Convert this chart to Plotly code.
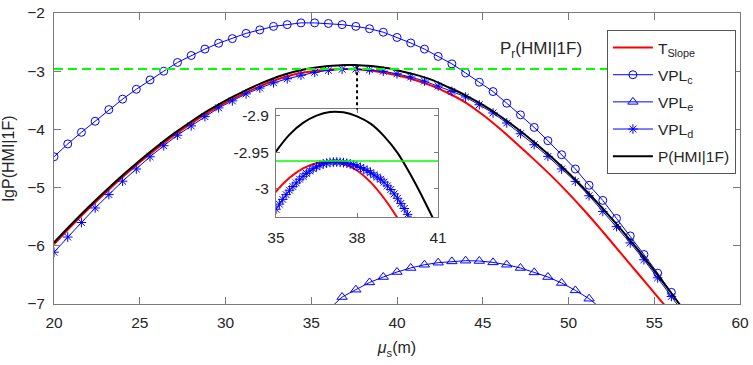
import plotly.graph_objects as go

# ---------------- data ----------------
# x grid of the marker series (step 0.8)
mu_marks = [20.0, 20.8, 21.6, 22.4, 23.2, 24.0, 24.8, 25.6, 26.4, 27.2, 28.0, 28.8,
            29.6, 30.4, 31.2, 32.0, 32.8, 33.6, 34.4, 35.2, 36.0, 36.8, 37.6, 38.4,
            39.2, 40.0, 40.8, 41.6, 42.4, 43.2, 44.0, 44.8, 45.6, 46.4, 47.2, 48.0,
            48.8, 49.6, 50.4, 51.2, 52.0, 52.8, 53.6, 54.4, 55.2, 56.0, 56.8]

vpl_c = [-4.47, -4.25, -4.05, -3.86, -3.66, -3.48, -3.31, -3.15, -3.00, -2.85, -2.73, -2.62,
         -2.52, -2.44, -2.35, -2.29, -2.23, -2.20, -2.17, -2.17, -2.18, -2.20, -2.23, -2.27,
         -2.33, -2.42, -2.515, -2.62, -2.746, -2.874, -3.031, -3.19, -3.35, -3.55, -3.75, -3.966,
         -4.194, -4.435, -4.68, -4.96, -5.22, -5.53, -5.83, -6.15, -6.47, -6.80, -7.15]

vpl_d = [-6.11, -5.85, -5.60, -5.35, -5.12, -4.89, -4.68, -4.47, -4.28, -4.10, -3.94, -3.78,
         -3.63, -3.51, -3.39, -3.29, -3.20, -3.13, -3.07, -3.02, -2.985, -2.967, -2.964, -2.977,
         -3.00, -3.045, -3.10, -3.17, -3.255, -3.347, -3.443, -3.576, -3.718, -3.89, -4.074, -4.263,
         -4.464, -4.68, -4.893, -5.14, -5.41, -5.67, -5.95, -6.24, -6.55, -6.87, -7.2]

mu_e = [36.0, 36.8, 37.6, 38.4, 39.2, 40.0, 40.8, 41.6, 42.4, 43.2, 44.0, 44.8, 45.6,
        46.4, 47.2, 48.0, 48.8, 49.6, 50.4, 51.2, 52.0]
vpl_e = [-7.1, -6.88, -6.754, -6.629, -6.536, -6.45, -6.381, -6.325, -6.29, -6.268, -6.256,
         -6.261, -6.285, -6.325, -6.381, -6.457, -6.536, -6.639, -6.766, -6.909, -7.1]

mu_black = [20, 21, 22, 23, 24, 25, 26, 27, 28, 29, 30, 31, 32, 33, 34, 34.5, 35, 35.5, 36,
            36.5, 37, 37.5, 38, 38.5, 39, 39.5, 40, 40.5, 41, 41.5, 42, 43, 44, 45, 46, 47,
            48, 49, 50, 51, 52, 53, 54, 55, 56, 57]
p_hmi = [-5.944, -5.634, -5.339, -5.059, -4.789, -4.534, -4.294, -4.069, -3.864, -3.674,
         -3.504, -3.354, -3.219, -3.099, -3.009, -2.976, -2.949, -2.926, -2.910, -2.900,
         -2.895, -2.8955, -2.901, -2.911, -2.928, -2.951, -2.982, -3.017, -3.055, -3.097,
         -3.145, -3.275, -3.415, -3.58, -3.77, -3.985, -4.22, -4.475, -4.75, -5.045, -5.36,
         -5.695, -6.05, -6.425, -6.815, -7.215]

mu_red = [20, 21, 22, 23, 24, 25, 26, 27, 28, 29, 30, 31, 32, 33, 34, 35, 35.5, 36, 36.5,
          37, 37.5, 38, 38.5, 39, 39.5, 40, 41, 42, 43, 44, 45, 46, 47, 48, 49, 50, 51, 52,
          53, 54, 55, 56]
t_slope = [-5.975, -5.665, -5.37, -5.09, -4.82, -4.566, -4.327, -4.103, -3.899, -3.71, -3.541,
           -3.393, -3.26, -3.143, -3.057, -3.004, -2.985, -2.972, -2.965, -2.9635, -2.966,
           -2.975, -2.991, -3.013, -3.040, -3.071, -3.148, -3.249, -3.379, -3.539, -3.749,
           -3.989, -4.249, -4.519, -4.799, -5.099, -5.419, -5.759, -6.109, -6.459, -6.809, -7.159]

p_r = -2.962  # threshold P_r(HMI|1F)

# dense VPL_d samples shown in the inset
mu_inset = [35.0, 35.125, 35.25, 35.375, 35.5, 35.625, 35.75, 35.875, 36.0, 36.125, 36.25,
            36.375, 36.5, 36.625, 36.75, 36.875, 37.0, 37.125, 37.25, 37.375, 37.5, 37.625,
            37.75, 37.875, 38.0, 38.125, 38.25, 38.375, 38.5, 38.625, 38.75, 38.875, 39.0,
            39.125, 39.25, 39.375, 39.5, 39.625, 39.75, 39.875, 40.0]
vpl_d_inset = [-3.028, -3.021, -3.0145, -3.008, -3.002, -2.997, -2.992, -2.987, -2.983, -2.979,
               -2.9756, -2.9726, -2.970, -2.968, -2.966, -2.965, -2.964, -2.9636, -2.9635,
               -2.9638, -2.9643, -2.965, -2.966, -2.967, -2.969, -2.971, -2.973, -2.975, -2.978,
               -2.981, -2.984, -2.987, -2.991, -2.996, -3.001, -3.007, -3.013, -3.020, -3.027,
               -3.035, -3.043]

x_ticks = [20, 25, 30, 35, 40, 45, 50, 55, 60]
y_ticks = [-7, -6, -5, -4, -3, -2]
inset_x_ticks = [35, 38, 41]
inset_y_ticks = [-3, -2.95, -2.9]
inset_y_labels = ["-3", "-2.95", "-2.9"]

# ---------------- figure ----------------
FONT = "Arial, Liberation Sans, Helvetica, sans-serif"
AX = "#7a7a7a"
TXT = "#262626"
BLUE = "#0000FF"

fig = go.Figure()

fig.add_trace(go.Scatter(x=mu_red, y=t_slope, mode="lines", name="T<sub>Slope</sub>",
                         line=dict(color="#FF0000", width=2, shape="spline"),
                         legendgroup="a"))
fig.add_trace(go.Scatter(x=mu_marks, y=vpl_c, mode="lines+markers", name="VPL<sub>c</sub>",
                         line=dict(color=BLUE, width=1),
                         marker=dict(symbol="circle-open", size=8, color=BLUE, line=dict(width=1)),
                         legendgroup="b"))
fig.add_trace(go.Scatter(x=mu_e, y=vpl_e, mode="lines+markers", name="VPL<sub>e</sub>",
                         line=dict(color=BLUE, width=1),
                         marker=dict(symbol="triangle-up-open", size=9, color=BLUE, line=dict(width=1)),
                         legendgroup="c"))
fig.add_trace(go.Scatter(x=mu_marks, y=vpl_d, mode="lines+markers", name="VPL<sub>d</sub>",
                         line=dict(color=BLUE, width=1),
                         marker=dict(symbol="asterisk-open", size=8, color=BLUE, line=dict(width=1)),
                         legendgroup="d"))
fig.add_trace(go.Scatter(x=mu_black, y=p_hmi, mode="lines", name="P(HMI|1F)",
                         line=dict(color="#000000", width=2, shape="spline"),
                         legendgroup="e"))
fig.add_trace(go.Scatter(x=[20, 60], y=[p_r, p_r], mode="lines", showlegend=False,
                         line=dict(color="#00FF00", width=2, dash="9px,5px")))

# inset traces
fig.add_trace(go.Scatter(x=mu_red, y=t_slope, mode="lines", showlegend=False,
                         line=dict(color="#FF0000", width=2, shape="spline"),
                         xaxis="x2", yaxis="y2"))
fig.add_trace(go.Scatter(x=mu_inset, y=vpl_d_inset, mode="lines+markers", showlegend=False,
                         line=dict(color=BLUE, width=1),
                         marker=dict(symbol="asterisk-open", size=8, color=BLUE, line=dict(width=1)),
                         xaxis="x2", yaxis="y2"))
fig.add_trace(go.Scatter(x=mu_black, y=p_hmi, mode="lines", showlegend=False,
                         line=dict(color="#000000", width=2, shape="spline"),
                         xaxis="x2", yaxis="y2"))
fig.add_trace(go.Scatter(x=[35, 41], y=[p_r, p_r], mode="lines", showlegend=False,
                         line=dict(color="#00FF00", width=1.5),
                         xaxis="x2", yaxis="y2"))

axis_common = dict(showline=True, linecolor=AX, linewidth=1, mirror="ticks",
                   ticks="inside", tickcolor=AX, showgrid=False, zeroline=False,
                   automargin=False,
                   tickfont=dict(family=FONT, size=15.5, color=TXT))

fig.update_layout(
    template="none",
    width=753, height=365,
    margin=dict(l=54, r=13, t=13, b=61),
    paper_bgcolor="white", plot_bgcolor="white",
    font=dict(family=FONT, color=TXT),
    xaxis=dict(range=[20, 60], tickvals=x_ticks, ticklen=7, domain=[0, 1],
               ticklabelstandoff=4,
               title=dict(text="<i>μ</i><sub>s</sub>(m)", font=dict(family=FONT, size=16, color=TXT),
                          standoff=12),
               **axis_common),
    yaxis=dict(range=[-7, -2], tickvals=y_ticks, ticklen=7, domain=[0, 1],
               ticklabelstandoff=5,
               title=dict(text="lgP(HMI|1F)", font=dict(family=FONT, size=16, color=TXT),
                          standoff=8),
               **axis_common),
    xaxis2=dict(range=[35, 41], tickvals=inset_x_ticks, ticklen=4, anchor="y2",
                ticklabelstandoff=6,
                domain=[0.3236, 0.5598], **axis_common),
    yaxis2=dict(range=[-3.0386, -2.891], tickvals=inset_y_ticks, ticktext=inset_y_labels,
                ticklen=4, anchor="x2", domain=[0.299, 0.670],
                ticklabelstandoff=3, **axis_common),
    legend=dict(x=0.806, y=0.9416, xanchor="left", yanchor="top",
                bgcolor="white", bordercolor="#555555", borderwidth=1,
                font=dict(family=FONT, size=15.5, color=TXT),
                tracegroupgap=4, itemwidth=40),
    showlegend=True,
)

# P_r label
fig.add_annotation(x=45.9, y=-2.63, xref="x", yref="y", text="P<sub>r</sub>(HMI|1F)",
                   showarrow=False, xanchor="left", yanchor="middle",
                   font=dict(family=FONT, size=17, color=TXT))

# dotted connector from the peak region down to the inset
fig.add_shape(type="line", xref="x", yref="y", x0=37.67, x1=37.67, y0=-2.915, y1=-3.66,
              line=dict(color="#000000", width=2, dash="dot"))

fig.write_html("out.html")
